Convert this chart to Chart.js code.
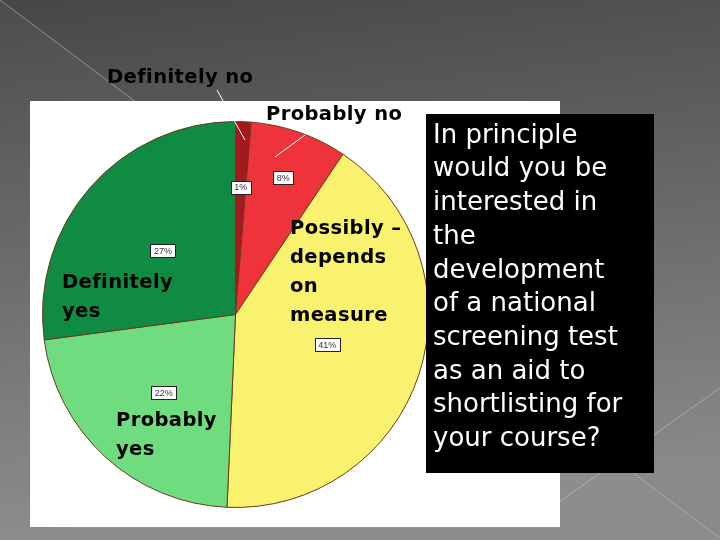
<!DOCTYPE html>
<html>
<head>
<meta charset="utf-8">
<script src="https://cdn.jsdelivr.net/npm/chart.js@4"></script>
<style>
  html, body { margin: 0; padding: 0; background: #4a4a4a; }
  canvas { display: block; }
</style>
</head>
<body>
<canvas id="chart" width="720" height="540"></canvas>
<script>
// survey answers, clockwise from 12 o'clock
const categories = ["Definitely no", "Probably no", "Possibly – depends on measure", "Probably yes", "Definitely yes"];
const shares = [1.3, 8.1, 41.3, 22.2, 27.1];
const sliceColors = ["#a3191f", "#ee343a", "#f9f26f", "#6fdc80", "#0f8b43"];
const questionLines = ["In principle", "would you be", "interested in", "the", "development",
    "of a national", "screening test", "as an aid to", "shortlisting for", "your course?"];

// radial position (fraction of radius) of the small % boxes
const boxRadius = [0.66, 0.75, 0.5, 0.55, 0.5];

const slidePlugin = {
    id: "slide",
    beforeDraw(chart) {
        const ctx = chart.ctx;
        ctx.save();
        const g = ctx.createLinearGradient(0, 0, 60, 540);
        g.addColorStop(0, "#474747");
        g.addColorStop(1, "#8a8a8a");
        ctx.fillStyle = g;
        ctx.fillRect(0, 0, 720, 540);

        // lighter wedge on the left
        ctx.fillStyle = "rgba(255,255,255,0.03)";
        ctx.beginPath();
        ctx.moveTo(0, 0);
        ctx.lineTo(720, 540);
        ctx.lineTo(0, 540);
        ctx.closePath();
        ctx.fill();

        ctx.strokeStyle = "rgba(200,200,200,0.55)";
        ctx.lineWidth = 1;
        ctx.beginPath();
        ctx.moveTo(0, 0); ctx.lineTo(140, 105);
        ctx.moveTo(720, 388); ctx.lineTo(545, 512);
        ctx.moveTo(560, 418); ctx.lineTo(720, 538);
        ctx.stroke();

        // white picture frame behind the pie
        ctx.fillStyle = "#ffffff";
        ctx.fillRect(30, 101, 530, 426);
        ctx.restore();
    },
    afterDraw(chart) {
        const ctx = chart.ctx;
        const arcs = chart.getDatasetMeta(0).data;
        ctx.save();

        // small percentage boxes
        ctx.font = "9px 'Liberation Sans', Arial, sans-serif";
        ctx.textAlign = "center";
        ctx.textBaseline = "middle";
        arcs.forEach((arc, i) => {
            const mid = (arc.startAngle + arc.endAngle) / 2;
            const r = arc.outerRadius * boxRadius[i];
            const x = arc.x + Math.cos(mid) * r;
            const y = arc.y + Math.sin(mid) * r;
            const txt = Math.round(shares[i]) + "%";
            const w = ctx.measureText(txt).width + 7;
            const h = 13;
            ctx.fillStyle = "#ffffff";
            ctx.fillRect(Math.round(x - w / 2) + 0.5, Math.round(y - h / 2) + 0.5, Math.round(w), h);
            ctx.strokeStyle = "#222";
            ctx.lineWidth = 1;
            ctx.strokeRect(Math.round(x - w / 2) + 0.5, Math.round(y - h / 2) + 0.5, Math.round(w), h);
            ctx.fillStyle = "#333";
            ctx.fillText(txt, x, y + 0.5);
        });

        // leader lines
        ctx.strokeStyle = "#ffffff";
        ctx.lineWidth = 1;
        ctx.beginPath();
        ctx.moveTo(217, 90); ctx.lineTo(245, 140);
        ctx.moveTo(305, 135); ctx.lineTo(275, 157);
        ctx.stroke();

        // category labels
        ctx.fillStyle = "#000000";
        ctx.textAlign = "left";
        ctx.font = "bold 19.5px 'DejaVu Sans', sans-serif";
        ctx.letterSpacing = "0.4px";
        const labels = [
            ["Definitely no", 107, 78],
            ["Probably no", 266, 115],
            ["Possibly –", 290, 229], ["depends", 290, 258], ["on", 290, 287], ["measure", 290, 316],
            ["Definitely", 62, 283], ["yes", 62, 312],
            ["Probably", 116, 421], ["yes", 116, 450],
        ];
        labels.forEach(([t, x, y]) => ctx.fillText(t, x, y));
        ctx.letterSpacing = "0px";

        // question box
        ctx.fillStyle = "#000000";
        ctx.fillRect(426, 114, 228, 359);
        ctx.fillStyle = "#ffffff";
        ctx.font = "26px 'DejaVu Sans', sans-serif";
        questionLines.forEach((t, i) => ctx.fillText(t, 433, 136 + i * 33.7));
        ctx.restore();
    }
};

new Chart(document.getElementById("chart"), {
    type: "pie",
    data: {
        labels: categories,
        datasets: [{
            data: shares,
            backgroundColor: sliceColors,
            borderColor: "#6e3a1c",
            borderWidth: 1,
        }],
    },
    options: {
        responsive: false,
        animation: false,
        layout: { padding: { left: 42, right: 291, top: 121, bottom: 32 } },
        plugins: {
            legend: { display: false },
            tooltip: { enabled: false },
        },
    },
    plugins: [slidePlugin],
});
</script>
</body>
</html>
